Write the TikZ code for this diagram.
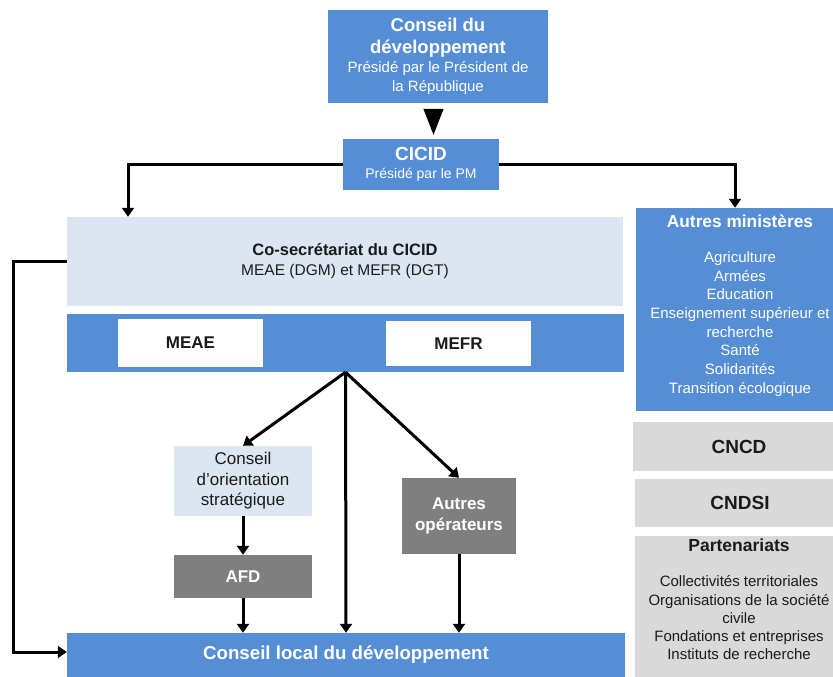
\documentclass[tikz,border=0pt]{standalone}
\usepackage{fontspec}
\setmainfont{Liberation Sans}
\usetikzlibrary{arrows.meta,calc}
\definecolor{cblue}{HTML}{558ED5}
\definecolor{clight}{HTML}{DCE6F2}
\definecolor{cdark}{HTML}{7F7F7F}
\definecolor{cgrey}{HTML}{D9D9D9}
\definecolor{ctext}{HTML}{1A1A1A}
\newcommand\FtTitle{\fontsize{18.5}{22}\selectfont\bfseries}
\newcommand\FtSub{\fontsize{15}{19}\selectfont}
\newcommand\FtHead{\fontsize{17.3}{20}\selectfont\bfseries}
\begin{document}
\begin{tikzpicture}[x=1pt,y=-1pt,
  boxbase/.style={draw=none,inner sep=0pt,align=center},
  bluebox/.style={boxbase,fill=cblue,text=white},
  lightbox/.style={boxbase,fill=clight,text=ctext},
  darkbox/.style={boxbase,fill=cdark,text=white},
  greybox/.style={boxbase,fill=cgrey,text=ctext},
  whitebox/.style={boxbase,fill=white,text=ctext},
  txt/.style={inner sep=0pt,align=center,anchor=north},
  arr/.style={line width=3pt,-{Triangle[width=12pt,length=9pt]}},
  bigarr/.style={line width=1pt,-{Triangle[width=20pt,length=26pt]}}]
\useasboundingbox (0,0) rectangle (833,677);
\clip (0,0) rectangle (833,677);

% top boxes
\node[bluebox,minimum width=220pt,minimum height=93pt,font=\FtSub] (cd) at (438,56.5)
  {\FtTitle Conseil du\\[3pt]\FtTitle développement\\\FtSub Présidé par le Président de\\\FtSub la République};
\node[bluebox,minimum width=156pt,minimum height=51pt,font=\fontsize{14}{18}\selectfont] (cicid) at (421,164.5)
  {\fontsize{19}{18}\selectfont\bfseries CICID\\\fontsize{14}{18}\selectfont Présidé par le PM};

% main column
\node[lightbox,minimum width=556pt,minimum height=89pt,font=\fontsize{15.5}{20}\selectfont] (cosec) at (345,261.5)
  {\fontsize{16.5}{20}\selectfont\bfseries Co-secrétariat du CICID\\\fontsize{15.5}{20}\selectfont MEAE (DGM) et MEFR (DGT)};
\node[bluebox,minimum width=557pt,minimum height=58pt] (band) at (345.5,343) {};
\node[whitebox,minimum width=145pt,minimum height=48pt,font=\fontsize{17}{20}\selectfont\bfseries] (meae) at (190.5,343) {MEAE};
\node[whitebox,minimum width=145pt,minimum height=45pt,font=\fontsize{17}{20}\selectfont\bfseries] (mefr) at (458.5,343.5) {MEFR};

\node[lightbox,minimum width=138pt,minimum height=70pt,font=\fontsize{17}{20.5}\selectfont] (cos) at (243,481)
  {Conseil\\d’orientation\\stratégique};
\node[darkbox,minimum width=138pt,minimum height=43pt,font=\fontsize{17}{20}\selectfont\bfseries] (afd) at (243,576.5) {AFD};
\node[darkbox,minimum width=114pt,minimum height=76pt,font=\fontsize{17}{20.5}\selectfont\bfseries] (autop) at (459,516)
  {Autres\\opérateurs};
\node[bluebox,minimum width=558pt,minimum height=44pt,font=\fontsize{18.7}{22}\selectfont\bfseries] (clocal) at (346,655)
  {Conseil local du développement};

% right column
\node[bluebox,minimum width=209pt,minimum height=203pt] (autresmin) at (740.5,309.5) {};
\node[txt,text=white,font=\fontsize{15}{18.7}\selectfont] (amT) at (740,214.5)
  {\FtHead Autres ministères\\[16.3pt]\fontsize{15}{18.7}\selectfont Agriculture\\Armées\\Education\\Enseignement supérieur et\\recherche\\Santé\\Solidarités\\Transition écologique};
\node[greybox,minimum width=212pt,minimum height=49pt,font=\fontsize{19}{22}\selectfont\bfseries] (cncd) at (739,446.5) {CNCD};
\node[greybox,minimum width=210pt,minimum height=48pt,font=\fontsize{19}{22}\selectfont\bfseries] (cndsi) at (740,503) {CNDSI};
\node[greybox,minimum width=210pt,minimum height=154pt] (part) at (740,613) {};
\node[txt,text=ctext,font=\fontsize{15}{18.2}\selectfont] (partT) at (739,539)
  {\fontsize{17.5}{20}\selectfont\bfseries Partenariats\\[16.8pt]\fontsize{15}{18.2}\selectfont Collectivités territoriales\\Organisations de la société\\civile\\Fondations et entreprises\\Instituts de recherche};

% connectors
\coordinate (tri) at (433.5,0);
\coordinate (lt) at (128,0);
\coordinate (rt) at (735,0);
\coordinate (fb) at (13,0);
\coordinate (fbl) at (0,652);
\draw[bigarr,shorten <=6pt,shorten >=4pt] (tri |- cd.south) -- (tri |- cicid.north);
\draw[arr] (cicid.west) -| (lt |- cosec.north);
\draw[arr] (cicid.east) -| (rt |- autresmin.north);
\draw[arr] (cosec.west) -- (fb |- cosec.west) -- (fb |- fbl) -- (clocal.west |- fbl);
\draw[arr] (band.south) -- (cos.north);
\draw[arr] (band.south) -- (clocal.north);
\draw[arr] (band.south) -- (autop.north);
\draw[arr] (cos.south) -- (afd.north);
\draw[arr] (afd.south) -- (afd.south |- clocal.north);
\draw[arr] (autop.south) -- (autop.south |- clocal.north);
\end{tikzpicture}
\end{document}
